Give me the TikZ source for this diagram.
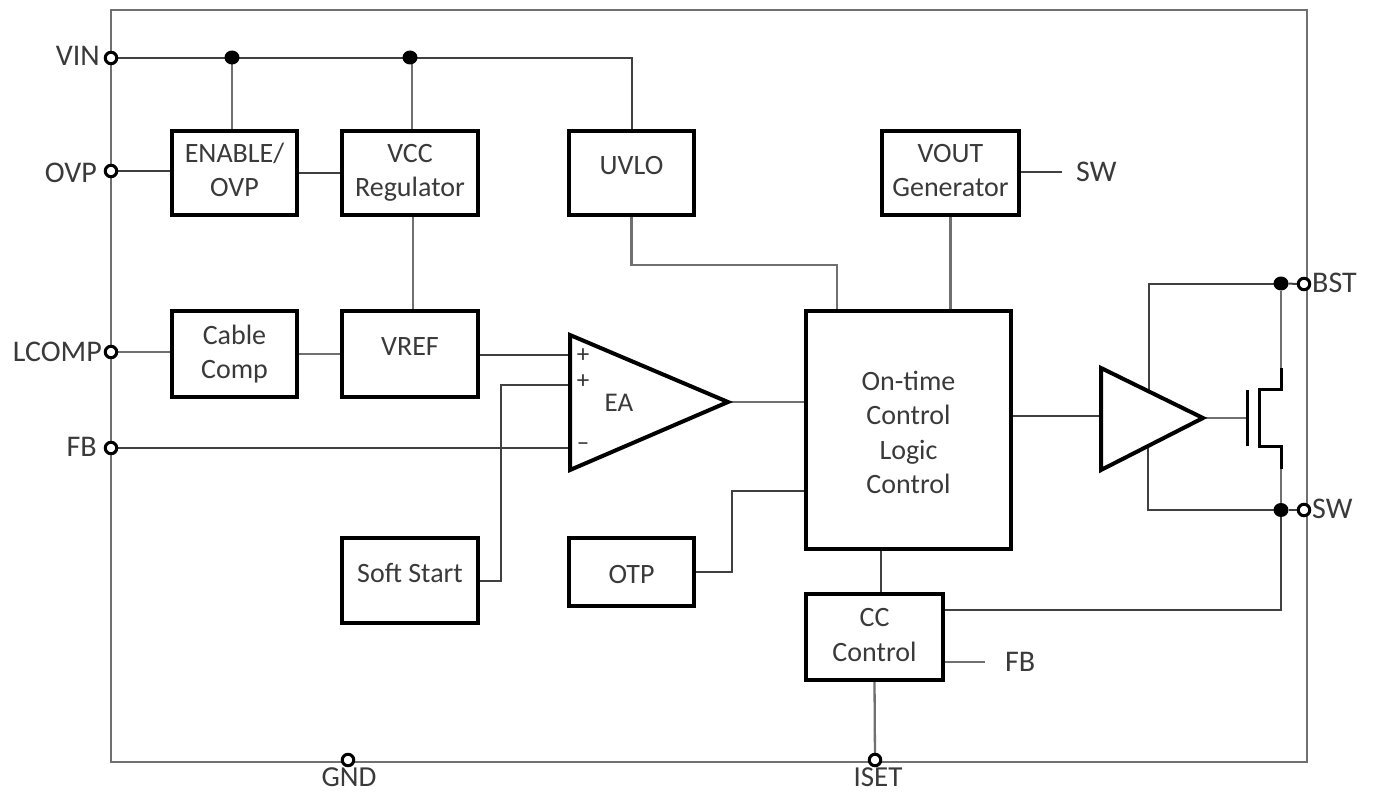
\documentclass[tikz,border=0pt]{standalone}
\usepackage{fontspec}
\usetikzlibrary{shapes.geometric,backgrounds}
\setmainfont{Carlito}
\definecolor{wire}{HTML}{707070}
\definecolor{txt}{HTML}{3A3A3A}
\tikzset{
  block/.style={draw=black,line width=3.4pt,fill=white,inner sep=0pt,outer sep=0pt,align=center,text=txt,font=\fontsize{28}{34.5}\selectfont},
  pin/.style={circle,draw=black,line width=3pt,fill=white,minimum size=11.5pt,inner sep=0pt,outer sep=0pt},
  dotj/.style={ellipse,fill=black,minimum width=15pt,minimum height=14pt,inner sep=0pt,outer sep=0pt},
  lbl/.style={text=txt,inner sep=0pt,font=\fontsize{30}{34}\selectfont},
  marklbl/.style={text=black!80,inner sep=0pt,font=\fontsize{25}{25}\selectfont},
  edgelbl/.style={text=txt,inner sep=0pt,font=\fontsize{29}{30}\selectfont},
  gwire/.style={draw=wire,line width=2.3pt},
  kwire/.style={draw=black!75,line width=2pt},
  tri/.style={draw=black,line width=4pt,fill=white,line join=miter},
  fet/.style={draw=black,line width=3pt}
}
\begin{document}
\begin{tikzpicture}[x=1pt,y=-1pt]
\useasboundingbox (0,0) rectangle (1373,792);
% coordinates for triangles and free ends
\coordinate (eatop) at (570,335);
\coordinate (eabot) at (570,470);
\coordinate (eaout) at (728,402);
\coordinate (drtop) at (1101,368);
\coordinate (drbot) at (1101,470);
\coordinate (drout) at (1203,418);
\coordinate (swfree) at (1062,172);
\coordinate (fbfree) at (985,662);
% blocks
\node[block,minimum width=125pt,minimum height=84pt,text depth=6pt] (enable) at (234.5,173) {ENABLE/\\OVP};
\node[block,minimum width=136pt,minimum height=84pt] (vcc) at (410,173) {VCC\\Regulator};
\node[block,minimum width=125pt,minimum height=84pt,text depth=16pt] (uvlo) at (631.5,173) {UVLO};
\node[block,minimum width=137pt,minimum height=84pt,text depth=5pt] (vout) at (950.5,173) {VOUT\\Generator};
\node[block,minimum width=125pt,minimum height=86pt] (cable) at (234.5,354) {Cable\\Comp};
\node[block,minimum width=136pt,minimum height=86pt,text depth=14pt] (vref) at (410,354) {VREF};
\node[block,minimum width=136pt,minimum height=85pt,text depth=16pt] (soft) at (410,580.5) {Soft Start};
\node[block,minimum width=125pt,minimum height=68pt,text height=23pt] (otp) at (631.5,572) {OTP};
\node[block,minimum width=205pt,minimum height=238pt,text height=128pt] (logic) at (908.5,430) {On-time\\Control\\Logic\\Control};
\node[block,minimum width=137pt,minimum height=86pt,text depth=4pt] (cc) at (874.5,637) {CC\\Control};
% pins and junctions
\node[pin] (vin) at (111,58) {};
\node[pin] (ovp) at (111,171) {};
\node[pin] (lcomp) at (111,352) {};
\node[pin] (fb) at (111,448) {};
\node[pin] (bst) at (1304,284) {};
\node[pin] (sw) at (1304,510) {};
\node[pin] (gnd) at (348,760) {};
\node[pin] (iset) at (875,760) {};
\node[dotj] (j1) at (232,57.5) {};
\node[dotj] (j2) at (410,57.5) {};
\node[dotj] (j3) at (1281,283.5) {};
\node[dotj] (j4) at (1281,510) {};
\coordinate (logicout) at (1011,416);
% wires and frame, under the nodes
\begin{scope}[on background layer]
\fill[white] (0,0) rectangle (1373,792);
\draw[gwire] (111,10) rectangle (1307,762);
\draw[kwire] (vin) -- (vin -| j1);
\draw[kwire] (vin -| j1) -- (vin -| j2);
\draw[kwire] (vin -| j2) -- (vin -| uvlo.north) -- (uvlo.north);
\draw[gwire] (j1) -- (enable.north -| j1);
\draw[gwire] ([xshift=2pt]j2.center) -- ([xshift=2pt]vcc.north);
\draw[kwire] (ovp) -- (ovp -| enable.west);
\draw[kwire] (enable.east) -- (vcc.west);
\draw[gwire] ([xshift=3pt]vcc.south) -- ([xshift=3pt]vref.north);
\draw[gwire] (lcomp) -- (lcomp -| cable.west);
\draw[gwire] (cable.east) -- (vref.west);
\draw[kwire] ([yshift=-1pt]vref.east) -- ([yshift=-1pt]eatop |- vref.east);
\draw[kwire] (soft.east) -- ++(23,0) |- (570,385);
\draw[kwire] (fb) -- (eatop |- fb);
\draw[gwire] (uvlo.south) |- (837,265) -- (837,311);
\draw[kwire] ([yshift=1pt]vout.east) -- (swfree);
\draw[gwire] (vout.south) -- (vout.south |- logic.north);
\draw[gwire] (eaout) -- (eaout -| logic.west);
\draw[kwire] (otp.east) -- ++(38,0) |- (806,491);
\draw[kwire] (logicout) -- (logicout -| drbot);
\draw[kwire] (881,549) -- (881,594);
\draw[kwire] (943,610) -| (j4);
\draw[gwire] (943,662) -- (fbfree);
\draw[gwire] (cc.south) -- (iset);
\draw[kwire] (j3) -- (bst);
\draw[kwire] (j4) -- (sw);
\draw[gwire] (j3) -- (1281,368);
\draw[gwire] (1281,469) -- (j4);
\draw[kwire] (j3) -- (1149,283.5) -- (1149,392);
\draw[kwire] (j4) -- (1148,510) -- (1148,446);
\draw[gwire] (drout) -- (1247,418);
\end{scope}
% triangles
\draw[tri] (eatop) -- (eaout) -- (eabot) -- cycle;
\draw[tri] (drtop) -- (drout) -- (drbot) -- cycle;
% mosfet
\draw[fet] (1247,390) -- (1247,446);
\draw[fet] (1281,368) -- (1281,389) -- (1259,389) -- (1259,446) -- (1281,446) -- (1281,469);
% op-amp marks
\node[marklbl] (p1) at (583,356) {+};
\node[marklbl] (p2) at (583,382) {+};
\node[marklbl] (m1) at (583,447) {--};
\node[lbl,font=\fontsize{27}{30}\selectfont] (ea) at (619,403) {EA};
% pin labels
\node[lbl,anchor=east] (lvin) at (100,56) {VIN};
\node[lbl,anchor=east] (lovp) at (97,173) {OVP};
\node[lbl,anchor=east] (llcomp) at (102,352) {LCOMP};
\node[lbl,anchor=east] (lfb) at (97,447) {FB};
\node[lbl,anchor=west] (lbst) at (1312,283) {BST};
\node[lbl,anchor=west] (lsw) at (1312,509) {SW};
\node[edgelbl] (lgnd) at (349,777) {GND};
\node[edgelbl] (liset) at (878,777) {ISET};
\node[lbl,anchor=west] (lsw2) at (1076,172) {SW};
\node[lbl,anchor=west] (lfb2) at (1005,662) {FB};
\end{tikzpicture}
\end{document}
